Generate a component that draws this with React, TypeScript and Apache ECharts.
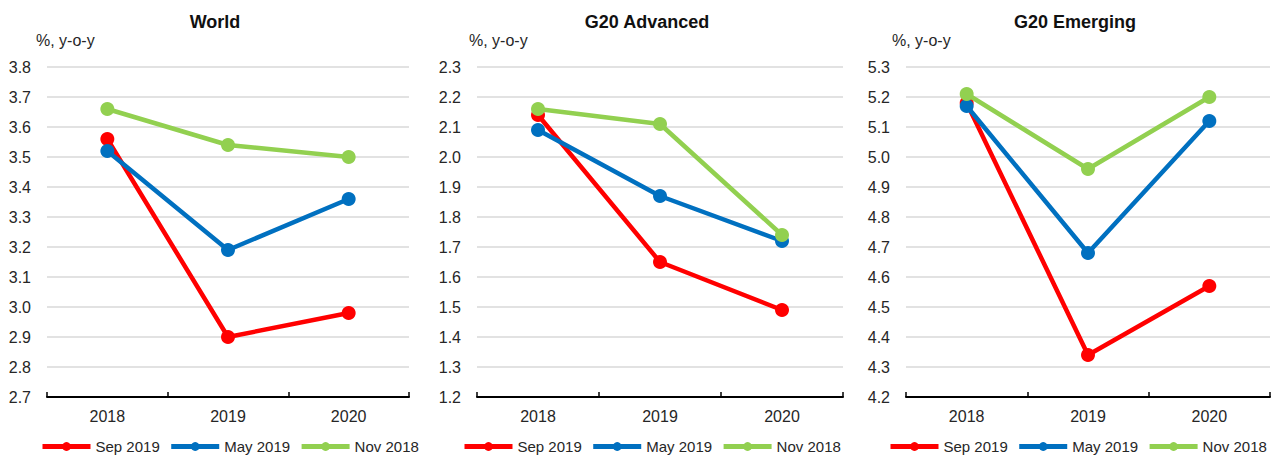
import React, { useEffect, useRef } from "react";
import * as echarts from "echarts";

const categories = ["2018", "2019", "2020"];
const seriesNames = ["Sep 2019", "May 2019", "Nov 2018"];
const seriesColors = ["#ff0000", "#0070c0", "#92d050"];
const panelTitles = ["World", "G20 Advanced", "G20 Emerging"];
const unitLabel = "%, y-o-y";

// values per panel: [Sep 2019, May 2019, Nov 2018]
const worldSep2019 = [3.56, 2.9, 2.98];
const worldMay2019 = [3.52, 3.19, 3.36];
const worldNov2018 = [3.66, 3.54, 3.5];

const advSep2019 = [2.14, 1.65, 1.49];
const advMay2019 = [2.09, 1.87, 1.72];
const advNov2018 = [2.16, 2.11, 1.74];

const emgSep2019 = [5.18, 4.34, 4.57];
const emgMay2019 = [5.17, 4.68, 5.12];
const emgNov2018 = [5.21, 4.96, 5.2];

const yMins = [2.7, 1.2, 4.2];
const yMaxs = [3.8, 2.3, 5.3];
const yInterval = 0.1;

const panelData = [
  [worldSep2019, worldMay2019, worldNov2018],
  [advSep2019, advMay2019, advNov2018],
  [emgSep2019, emgMay2019, emgNov2018],
];

const gridLefts = [47, 477, 906];
const gridWidths = [362, 366, 364];
const legendLefts = [40, 462, 888];
const unitLefts = [36, 469, 892];

const FONT = "'Liberation Sans', Arial, sans-serif";
const TEXT = "#262626";

export default function App() {
  const ref = useRef<HTMLDivElement>(null);
  useEffect(() => {
    if (!ref.current) return;
    const chart = echarts.init(ref.current, null, { renderer: "svg" });
    const grids = gridLefts.map((l, i) => ({
      left: l,
      width: gridWidths[i],
      top: 67,
      height: 330,
      containLabel: false,
    }));
    const xAxes = gridLefts.map((_, i) => ({
      type: "category",
      gridIndex: i,
      data: categories,
      boundaryGap: true,
      axisLine: { show: true, lineStyle: { color: "#000", width: 2 } },
      axisTick: { show: true, inside: true, length: 5, lineStyle: { color: "#000", width: 1.5 } },
      axisLabel: { color: TEXT, fontSize: 16, fontFamily: FONT, margin: 11 },
      splitLine: { show: false },
    }));
    const yAxes = gridLefts.map((_, i) => ({
      type: "value",
      gridIndex: i,
      min: yMins[i],
      max: yMaxs[i],
      interval: yInterval,
      axisLine: { show: false },
      axisTick: { show: false },
      axisLabel: {
        color: TEXT,
        fontSize: 16,
        fontFamily: FONT,
        margin: 16,
        formatter: (v: number) => v.toFixed(1),
      },
      splitLine: { show: true, lineStyle: { color: "#d9d9d9", width: 1.5 } },
    }));
    const series: any[] = [];
    panelData.forEach((panel, pi) => {
      panel.forEach((vals, si) => {
        series.push({
          type: "line",
          name: seriesNames[si],
          xAxisIndex: pi,
          yAxisIndex: pi,
          data: vals,
          symbol: "circle",
          symbolSize: 14,
          lineStyle: { color: seriesColors[si], width: 4.5 },
          itemStyle: { color: seriesColors[si] },
          z: 2 + si,
        });
      });
    });
    const legends = legendLefts.map((l) => ({
      left: l,
      top: 439,
      width: 390,
      orient: "horizontal",
      data: seriesNames,
      itemWidth: 48,
      itemHeight: 11,
      itemGap: 9,
      padding: 0,
      lineStyle: { width: 5 },
      textStyle: { color: TEXT, fontSize: 15, fontFamily: FONT },
    }));
    const graphics: any[] = [];
    gridLefts.forEach((l, i) => {
      graphics.push({
        type: "text",
        x: l + gridWidths[i] / 2 - 13,
        y: 22,
        style: {
          text: panelTitles[i],
          fill: "#111",
          font: `bold 18px ${FONT}`,
          textAlign: "center",
          textVerticalAlign: "middle",
        },
      });
      graphics.push({
        type: "text",
        x: unitLefts[i],
        y: 40,
        style: {
          text: unitLabel,
          fill: TEXT,
          font: `16px ${FONT}`,
          textAlign: "left",
          textVerticalAlign: "middle",
        },
      });
    });
    chart.setOption({
      animation: false,
      backgroundColor: "#fff",
      grid: grids,
      xAxis: xAxes,
      yAxis: yAxes,
      legend: legends,
      series,
      graphic: graphics,
    });
    return () => chart.dispose();
  }, []);
  return (
    <div
      ref={ref}
      style={{ position: "fixed", left: 0, top: 0, width: 1274, height: 456, background: "#fff" }}
    />
  );
}
